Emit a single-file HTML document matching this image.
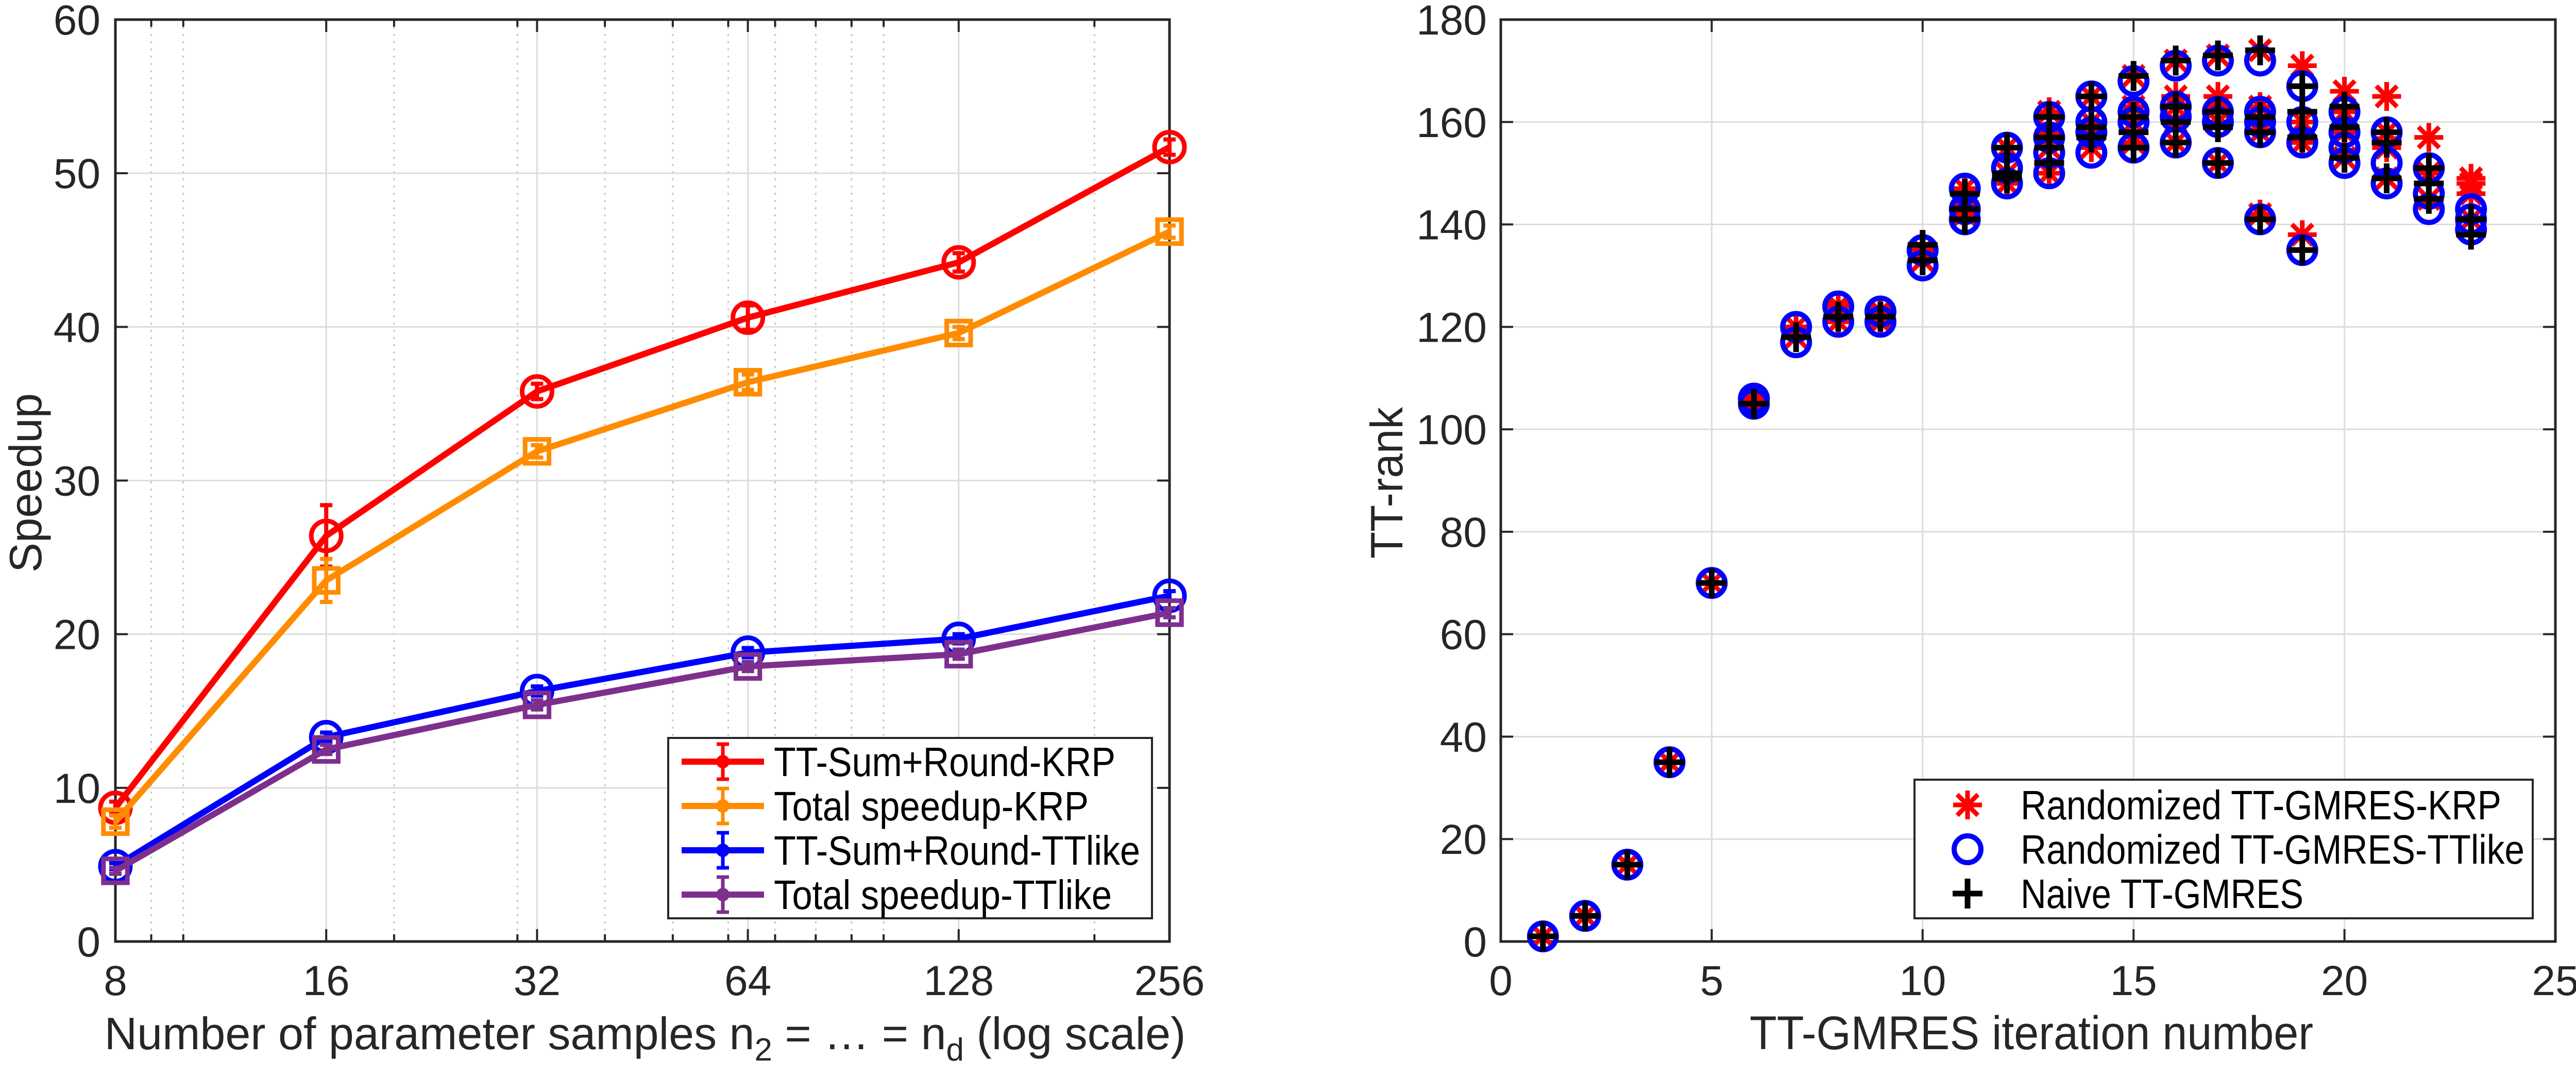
<!DOCTYPE html>
<html><head><meta charset="utf-8"><style>
html,body{margin:0;padding:0;background:#fff;}
svg{display:block;font-family:"Liberation Sans",sans-serif;}
</style></head><body>
<svg id="fig" width="5010" height="2088" viewBox="0 0 5010 2088" xmlns="http://www.w3.org/2000/svg">
<g id="left"></g>
<g id="right"></g>
</svg>
<script>
// ---------- Left chart data ----------
const samples = [8, 16, 32, 64, 128, 256];
const krpRound = [8.7, 26.4, 35.8, 40.6, 44.2, 51.7];
const krpRoundErr = [0.4, 2.0, 0.5, 0.8, 0.6, 0.5];
const krpTotal = [7.8, 23.5, 31.9, 36.4, 39.6, 46.2];
const krpTotalErr = [0.4, 1.4, 0.4, 0.5, 0.4, 0.4];
const ttRound = [4.9, 13.3, 16.3, 18.8, 19.7, 22.5];
const ttRoundErr = [0.2, 0.3, 0.3, 0.3, 0.3, 0.3];
const ttTotal = [4.6, 12.5, 15.4, 17.9, 18.7, 21.4];
const ttTotalErr = [0.2, 0.3, 0.3, 0.3, 0.3, 0.3];
const leftYTicks = [0, 10, 20, 30, 40, 50, 60];
const leftXTicks = ["8", "16", "32", "64", "128", "256"];
const leftMinor = [9, 10, 20, 30, 40, 50, 60, 70, 80, 90, 100, 200];
const leftLegend = ["TT-Sum+Round-KRP", "Total speedup-KRP", "TT-Sum+Round-TTlike", "Total speedup-TTlike"];
const leftLegendLen = [663, 611, 711, 656];

// ---------- Right chart data ----------
const iterations = [1,2,3,4,5,6,7,8,9,10,11,12,13,14,15,16,17,18,19,20,21,22,23];
const rankKRP = [[1],[5],[15],[35],[70],[105,106],[118,120],[121,123,124],[121,122,123],[133,135],[142,144,147],[148,150,155],[150,155,158,162],[155,158,160,165],[156,160,163,169],[156,160,163,165,172],[152,160,163,165,173],[142,158,160,163,174],[138,156,160,171],[153,158,162,166],[149,155,158,165],[145,150,157],[141,146,148,149]];
const rankTTlike = [[1],[5],[15],[35],[70],[105,106],[117,120],[121,124],[121,123],[132,135],[141,143,147],[148,151,155],[150,154,157,161],[154,158,160,165],[155,160,162,168],[156,161,163,171],[152,160,162,172],[141,158,160,162,172],[135,156,160,167],[152,155,158,162],[148,152,158],[143,146,151],[139,141,143]];
const rankNaive = [[1],[5],[15],[35],[70],[105],[118],[122],[122],[133,136],[141,143,146],[149,150,155],[152,155,157,161],[157,159,165],[155,158,161,169],[156,160,163,172],[152,159,162,173],[141,158,161,174],[135,157,162,167],[153,159,163],[149,156,158],[145,148,151],[138,141]];
const rightYTicks = [0,20,40,60,80,100,120,140,160,180];
const rightXTicks = [0,5,10,15,20,25];
const rightLegend = ["Randomized TT-GMRES-KRP", "Randomized TT-GMRES-TTlike", "Naive TT-GMRES"];
const rightLegendLen = [933, 978, 549];

const NS = "http://www.w3.org/2000/svg";
function mk(parent, tag, attrs, text) {
  const e = document.createElementNS(NS, tag);
  for (const k in attrs) e.setAttribute(k, attrs[k]);
  if (text !== undefined) e.textContent = text;
  parent.appendChild(e);
  return e;
}
const AX = "#262626";
const TOP = 38, BOT = 1827;

// ===== Left chart =====
const L = document.getElementById('left');
const lx0 = 224, lx1 = 2270;
const lxs = v => lx0 + Math.log2(v / 8) / 5 * (lx1 - lx0);
const lys = v => BOT - v / 60 * (BOT - TOP);
leftMinor.forEach(m => {
  const l = mk(L, 'line', {x1: lxs(m), x2: lxs(m), y1: TOP, y2: BOT, stroke: '#c8c8c8', 'stroke-width': 3, 'stroke-dasharray': '4 10'});
  
  
  mk(L, 'line', {x1: lxs(m), x2: lxs(m), y1: BOT, y2: BOT - 14, stroke: AX, 'stroke-width': 4});
  mk(L, 'line', {x1: lxs(m), x2: lxs(m), y1: TOP, y2: TOP + 14, stroke: AX, 'stroke-width': 4});
});
samples.forEach((s, i) => {
  const l = mk(L, 'line', {x1: lxs(s), x2: lxs(s), y1: TOP, y2: BOT, stroke: '#dcdcdc', 'stroke-width': 3});
  
  
  mk(L, 'line', {x1: lxs(s), x2: lxs(s), y1: BOT, y2: BOT - 24, stroke: AX, 'stroke-width': 4});
  mk(L, 'line', {x1: lxs(s), x2: lxs(s), y1: TOP, y2: TOP + 24, stroke: AX, 'stroke-width': 4});
  const t = mk(L, 'text', {x: lxs(s), y: 1931, 'font-size': 82, 'text-anchor': 'middle', fill: AX}, leftXTicks[i]);
  
  
});
leftYTicks.forEach(v => {
  if (v > 0 && v < 60) {
    const l = mk(L, 'line', {x1: lx0, x2: lx1, y1: lys(v), y2: lys(v), stroke: '#dcdcdc', 'stroke-width': 3});
    
    
  }
  mk(L, 'line', {x1: lx0, x2: lx0 + 24, y1: lys(v), y2: lys(v), stroke: AX, 'stroke-width': 4});
  mk(L, 'line', {x1: lx1, x2: lx1 - 24, y1: lys(v), y2: lys(v), stroke: AX, 'stroke-width': 4});
  const t = mk(L, 'text', {x: 195, y: lys(v) + 29, 'font-size': 82, 'text-anchor': 'end', fill: AX}, String(v));
  
  
});
const lbox = mk(L, 'rect', {x: lx0, y: TOP, width: lx1 - lx0, height: BOT - TOP, fill: 'none', stroke: AX, 'stroke-width': 5});



const leftSeries = [
  {vals: krpRound, err: krpRoundErr, color: '#ff0000', marker: 'circle'},
  {vals: krpTotal, err: krpTotalErr, color: '#ff8c00', marker: 'square'},
  {vals: ttRound, err: ttRoundErr, color: '#0000ff', marker: 'circle'},
  {vals: ttTotal, err: ttTotalErr, color: '#7e2f8e', marker: 'square'}
];
function drawMarker(g, type, x, y, color, size) {
  if (type === 'circle') return mk(g, 'circle', {cx: x, cy: y, r: size / 2, fill: 'none', stroke: color, 'stroke-width': 9});
  return mk(g, 'rect', {x: x - size * 0.4, y: y - size * 0.4, width: size * 0.8, height: size * 0.8, fill: 'none', stroke: color, 'stroke-width': 9});
}
leftSeries.forEach((s, si) => {
  const g = mk(L, 'g', {});
  
  
  const pts = s.vals.map((v, i) => lxs(samples[i]) + ',' + lys(v)).join(' ');
  mk(g, 'polyline', {points: pts, fill: 'none', stroke: s.color, 'stroke-width': 12, 'stroke-linejoin': 'round'});
  s.vals.forEach((v, i) => {
    const x = lxs(samples[i]);
    const eb = mk(g, 'path', {d: `M${x},${lys(v - s.err[i])}V${lys(v + s.err[i])}M${x - 12},${lys(v - s.err[i])}H${x + 12}M${x - 12},${lys(v + s.err[i])}H${x + 12}`, stroke: s.color, 'stroke-width': 8, fill: 'none'});
    
    
    const m = drawMarker(g, s.marker, x, lys(v), s.color, 58);
    
    
  });
});
// left legend
const lg = mk(L, 'g', {});


mk(lg, 'rect', {x: 1297, y: 1432, width: 939, height: 350, fill: '#fff', stroke: AX, 'stroke-width': 4});
leftSeries.forEach((s, i) => {
  const y = 1478 + i * 86;
  const e = mk(lg, 'g', {});
  
  
  mk(e, 'line', {x1: 1323, x2: 1483, y1: y, y2: y, stroke: s.color, 'stroke-width': 12});
  mk(e, 'path', {d: `M1403,${y - 34}V${y + 34}M1391,${y - 34}H1415M1391,${y + 34}H1415`, stroke: s.color, 'stroke-width': 7, fill: 'none'});
  mk(e, 'circle', {cx: 1403, cy: y, r: 10, fill: 'none', stroke: s.color, 'stroke-width': 6});
  mk(e, 'text', {x: 1502, y: y + 28, 'font-size': 80, fill: '#000', textLength: leftLegendLen[i], lengthAdjust: 'spacingAndGlyphs'}, leftLegend[i]);
});
const lyt = mk(L, 'text', {x: 0, y: 0, 'font-size': 88, 'text-anchor': 'middle', fill: AX, transform: 'translate(80,937) rotate(-90)', textLength: 348, lengthAdjust: 'spacingAndGlyphs'}, 'Speedup');


const lxt = mk(L, 'text', {x: 1252, y: 2036, 'font-size': 88, 'text-anchor': 'middle', fill: AX});


lxt.innerHTML = 'Number of parameter samples n<tspan dy="22" font-size="62">2</tspan><tspan dy="-22"> = … = n</tspan><tspan dy="22" font-size="62">d</tspan><tspan dy="-22"> (log scale)</tspan>';

// ===== Right chart =====
const R = document.getElementById('right');
const rx0 = 2913, rx1 = 4960;
const rxs = v => rx0 + v / 25 * (rx1 - rx0);
const rys = v => BOT - v / 180 * (BOT - TOP);
rightXTicks.forEach(v => {
  if (v > 0 && v < 25) {
    const l = mk(R, 'line', {x1: rxs(v), x2: rxs(v), y1: TOP, y2: BOT, stroke: '#dcdcdc', 'stroke-width': 3});
    
    
  }
  mk(R, 'line', {x1: rxs(v), x2: rxs(v), y1: BOT, y2: BOT - 24, stroke: AX, 'stroke-width': 4});
  mk(R, 'line', {x1: rxs(v), x2: rxs(v), y1: TOP, y2: TOP + 24, stroke: AX, 'stroke-width': 4});
  const t = mk(R, 'text', {x: rxs(v), y: 1931, 'font-size': 82, 'text-anchor': 'middle', fill: AX}, String(v));
  
  
});
rightYTicks.forEach(v => {
  if (v > 0 && v < 180) {
    const l = mk(R, 'line', {x1: rx0, x2: rx1, y1: rys(v), y2: rys(v), stroke: '#dcdcdc', 'stroke-width': 3});
    
    
  }
  mk(R, 'line', {x1: rx0, x2: rx0 + 24, y1: rys(v), y2: rys(v), stroke: AX, 'stroke-width': 4});
  mk(R, 'line', {x1: rx1, x2: rx1 - 24, y1: rys(v), y2: rys(v), stroke: AX, 'stroke-width': 4});
  const t = mk(R, 'text', {x: 2886, y: rys(v) + 29, 'font-size': 82, 'text-anchor': 'end', fill: AX}, String(v));
  
  
});
const rbox = mk(R, 'rect', {x: rx0, y: TOP, width: rx1 - rx0, height: BOT - TOP, fill: 'none', stroke: AX, 'stroke-width': 5});



function star(g, x, y, c) {
  const r = 28, d = r * 0.72;
  return mk(g, 'path', {d: `M${x - r},${y}H${x + r}M${x},${y - r}V${y + r}M${x - d},${y - d}L${x + d},${y + d}M${x - d},${y + d}L${x + d},${y - d}`, stroke: c, 'stroke-width': 9, fill: 'none'});
}
function ring(g, x, y, c) { return mk(g, 'circle', {cx: x, cy: y, r: 26, fill: 'none', stroke: c, 'stroke-width': 10}); }
function plus(g, x, y, c) {
  const r = 29;
  return mk(g, 'path', {d: `M${x - r},${y}H${x + r}M${x},${y - r}V${y + r}`, stroke: c, 'stroke-width': 11, fill: 'none'});
}
const rightSeries = [
  {data: rankKRP, fn: star, color: '#ff0000'},
  {data: rankTTlike, fn: ring, color: '#0000ff'},
  {data: rankNaive, fn: plus, color: '#000000'}
];
rightSeries.forEach((s, si) => {
  const g = mk(R, 'g', {});
  
  
  s.data.forEach((vals, i) => {
    vals.forEach(v => {
      const m = s.fn(g, rxs(iterations[i]), rys(v), s.color);
      
      
    });
  });
});
const rg = mk(R, 'g', {});


mk(rg, 'rect', {x: 3716, y: 1513, width: 1200, height: 269, fill: '#fff', stroke: AX, 'stroke-width': 4});
rightSeries.forEach((s, i) => {
  const y = 1562 + i * 86;
  const e = mk(rg, 'g', {});
  
  
  s.fn(e, 3819, y, s.color);
  mk(e, 'text', {x: 3922, y: y + 28, 'font-size': 80, fill: '#000', textLength: rightLegendLen[i], lengthAdjust: 'spacingAndGlyphs'}, rightLegend[i]);
});
const ryt = mk(R, 'text', {x: 0, y: 0, 'font-size': 88, 'text-anchor': 'middle', fill: AX, transform: 'translate(2722,937) rotate(-90)', textLength: 294, lengthAdjust: 'spacingAndGlyphs'}, 'TT-rank');


const rxt = mk(R, 'text', {x: 3943, y: 2036, 'font-size': 92, 'text-anchor': 'middle', fill: AX, textLength: 1094, lengthAdjust: 'spacingAndGlyphs'}, 'TT-GMRES iteration number');


</script>
</body></html>
